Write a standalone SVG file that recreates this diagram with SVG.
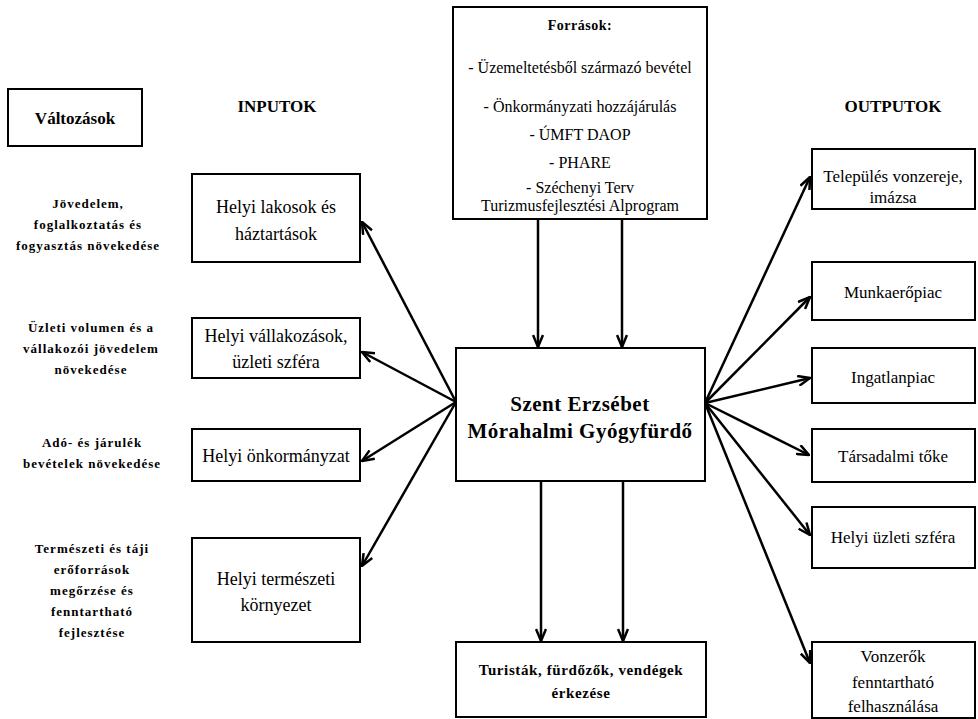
<svg xmlns="http://www.w3.org/2000/svg" width="978" height="719" viewBox="0 0 978 719">
<defs>
<marker id="ah" viewBox="0 0 14 12" refX="13" refY="6" markerWidth="14" markerHeight="12" markerUnits="userSpaceOnUse" orient="auto">
<path d="M1,1 L13,6 L1,11" fill="none" stroke="#000" stroke-width="2.5" stroke-linejoin="miter"/>
</marker>
<style>
.box{fill:#fff;stroke:#000;stroke-width:2}
.t{font-family:"Liberation Serif","Times New Roman",serif;fill:#000;text-anchor:middle}
.in{font-size:18px}
.out{font-size:17px}
.src{font-size:16px}
.hd{font-size:17px;font-weight:bold}
.ch{font-size:13px;font-weight:bold;letter-spacing:1px}
.ctr{font-size:21px;font-weight:bold;letter-spacing:0.5px}
.bot{font-size:15px;font-weight:bold;letter-spacing:0.6px}
.c{fill:none;stroke:#000;stroke-width:2.5;marker-end:url(#ah)}
</style>
</defs>
<rect width="978" height="719" fill="#fff"/>

<g id="connectors">
<line class="c" x1="538" y1="219" x2="538" y2="347"/>
<line class="c" x1="622" y1="219" x2="622" y2="347"/>
<line class="c" x1="541" y1="482" x2="541" y2="641"/>
<line class="c" x1="623" y1="482" x2="623" y2="641"/>
<line class="c" x1="456" y1="402" x2="362" y2="222"/>
<line class="c" x1="456" y1="402" x2="362" y2="352"/>
<line class="c" x1="456" y1="402" x2="362" y2="461"/>
<line class="c" x1="456" y1="402" x2="362" y2="566"/>
<line class="c" x1="705" y1="403" x2="810" y2="177"/>
<line class="c" x1="705" y1="403" x2="810" y2="297"/>
<line class="c" x1="705" y1="403" x2="810" y2="378"/>
<line class="c" x1="705" y1="403" x2="809" y2="455"/>
<line class="c" x1="705" y1="403" x2="810" y2="535"/>
<line class="c" x1="705" y1="403" x2="810" y2="663"/>
</g>

<g id="valtozasok">
<rect class="box" x="8" y="89" width="134" height="57"/>
<text class="t hd" x="75" y="124">Változások</text>
</g>
<g id="inputok-label"><text class="t hd" x="277" y="112">INPUTOK</text></g>
<g id="outputok-label"><text class="t hd" x="893" y="112">OUTPUTOK</text></g>

<g id="change1">
<text class="t ch" x="88" y="208">Jövedelem,</text>
<text class="t ch" x="88" y="229">foglalkoztatás és</text>
<text class="t ch" x="88" y="250">fogyasztás növekedése</text>
</g>
<g id="change2">
<text class="t ch" x="91" y="332">Üzleti volumen és a</text>
<text class="t ch" x="91" y="353">vállakozói jövedelem</text>
<text class="t ch" x="91" y="374">növekedése</text>
</g>
<g id="change3">
<text class="t ch" x="92" y="447">Adó- és járulék</text>
<text class="t ch" x="92" y="468">bevételek növekedése</text>
</g>
<g id="change4">
<text class="t ch" x="92" y="553">Természeti és táji</text>
<text class="t ch" x="92" y="574">erőforrások</text>
<text class="t ch" x="92" y="595">megőrzése és</text>
<text class="t ch" x="92" y="616">fenntartható</text>
<text class="t ch" x="92" y="637">fejlesztése</text>
</g>

<g id="in1">
<rect class="box" x="192" y="174" width="168" height="88"/>
<text class="t in" x="276" y="213">Helyi lakosok és</text>
<text class="t in" x="276" y="240">háztartások</text>
</g>
<g id="in2">
<rect class="box" x="192" y="318" width="168" height="60"/>
<text class="t in" x="276" y="342">Helyi vállakozások,</text>
<text class="t in" x="276" y="368">üzleti szféra</text>
</g>
<g id="in3">
<rect class="box" x="192" y="429" width="168" height="52"/>
<text class="t in" x="276" y="462">Helyi önkormányzat</text>
</g>
<g id="in4">
<rect class="box" x="192" y="538" width="168" height="104"/>
<text class="t in" x="276" y="585">Helyi természeti</text>
<text class="t in" x="276" y="611">környezet</text>
</g>

<g id="forrasok">
<rect class="box" x="453" y="7" width="254" height="212"/>
<text class="t" style="font-size:14px;font-weight:bold;letter-spacing:0.5px" x="580" y="30">Források:</text>
<text class="t src" x="580" y="73">- Üzemeltetésből származó bevétel</text>
<text class="t src" x="580" y="112">- Önkormányzati hozzájárulás</text>
<text class="t src" x="580" y="140">- ÚMFT DAOP</text>
<text class="t src" x="580" y="168">- PHARE</text>
<text class="t src" x="580" y="193">- Széchenyi Terv</text>
<text class="t src" x="580" y="211">Turizmusfejlesztési Alprogram</text>
</g>

<g id="center">
<rect class="box" x="456" y="348" width="249" height="133"/>
<text class="t ctr" x="580" y="411">Szent Erzsébet</text>
<text class="t ctr" x="580" y="438">Mórahalmi Gyógyfürdő</text>
</g>

<g id="turistak">
<rect class="box" x="456" y="642" width="250" height="75"/>
<text class="t bot" x="581" y="675">Turisták, fürdőzők, vendégek</text>
<text class="t bot" x="581" y="698">érkezése</text>
</g>

<g id="out1">
<rect class="box" x="812" y="149" width="163" height="60"/>
<text class="t out" x="893" y="182">Település vonzereje,</text>
<text class="t out" x="893" y="203">imázsa</text>
</g>
<g id="out2">
<rect class="box" x="812" y="262" width="163" height="58"/>
<text class="t out" x="893" y="298">Munkaerőpiac</text>
</g>
<g id="out3">
<rect class="box" x="812" y="348" width="163" height="55"/>
<text class="t out" x="893" y="383">Ingatlanpiac</text>
</g>
<g id="out4">
<rect class="box" x="812" y="429" width="163" height="53"/>
<text class="t out" x="893" y="462">Társadalmi tőke</text>
</g>
<g id="out5">
<rect class="box" x="812" y="507" width="163" height="61"/>
<text class="t out" x="893" y="543">Helyi üzleti szféra</text>
</g>
<g id="out6">
<rect class="box" x="812" y="642" width="163" height="76"/>
<text class="t out" x="893" y="662">Vonzerők</text>
<text class="t out" x="893" y="688">fenntartható</text>
<text class="t out" x="893" y="712">felhasználása</text>
</g>
</svg>
